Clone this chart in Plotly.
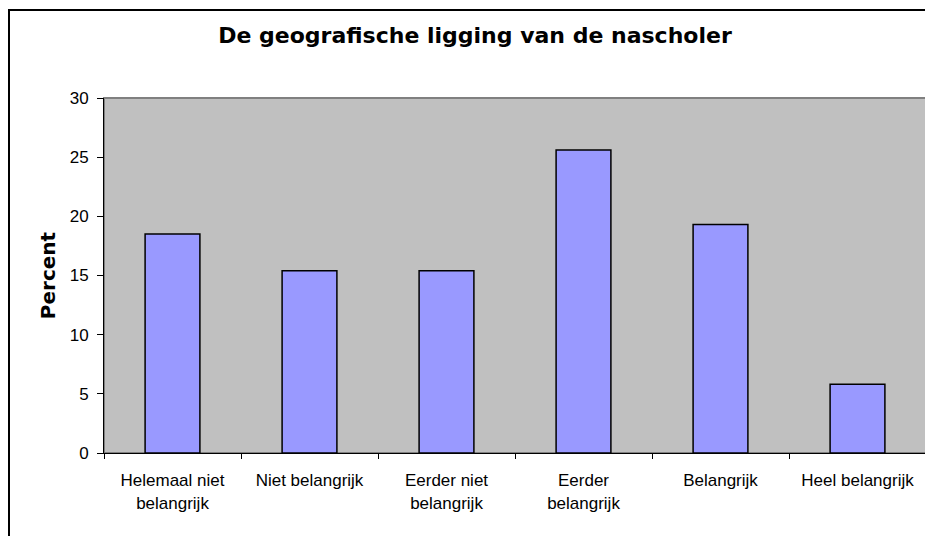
import plotly.graph_objects as go

categories = ["Helemaal niet<br>belangrijk", "Niet belangrijk", "Eerder niet<br>belangrijk",
              "Eerder<br>belangrijk", "Belangrijk", "Heel belangrijk"]
percent = [18.5, 15.4, 15.4, 25.6, 19.3, 5.8]
y_ticks = [0, 5, 10, 15, 20, 25, 30]

# page body has an 8px margin; work in figure pixels
OFF = 8
W, H = 933 - OFF, 536 - OFF
L, R, T, B = 104 - OFF, 7, 98 - OFF, 536 - 453
pw, ph = W - L - R, H - T - B

def px_x(p):
    return (p - OFF - L) / pw

def px_y(p):
    return (H - B - (p - OFF)) / ph

fig = go.Figure(go.Bar(
    x=categories, y=percent,
    marker=dict(color="#9999FF", line=dict(color="black", width=1.5)),
    width=0.4,
))

fig.update_layout(
    width=W, height=H,
    margin=dict(l=L, r=R, t=T, b=B),
    paper_bgcolor="white",
    plot_bgcolor="#C0C0C0",
    showlegend=False,
    title=dict(text="<b>De geografische ligging van de nascholer</b>",
               x=(475 - OFF) / W, xanchor="center", y=1 - (35 - OFF) / H, yanchor="middle",
               font=dict(family="DejaVu Sans", size=22, color="black")),
    font=dict(family="Liberation Sans, Arial", size=17, color="black"),
    xaxis=dict(showline=True, linecolor="black", linewidth=1,
               ticks="outside", tickson="boundaries", ticklen=5, tickcolor="black",
               tickfont=dict(size=17), showgrid=False, ticklabelstandoff=12),
    yaxis=dict(range=[0, 30], tickvals=y_ticks, showline=True, linecolor="black", linewidth=1,
               ticks="outside", ticklen=6, tickcolor="black", showgrid=False, zeroline=False,
               tickfont=dict(size=17), ticklabelstandoff=5,
               title=dict(text="<b>Percent</b>", font=dict(family="DejaVu Sans", size=20),
                          standoff=8)),
    shapes=[
        dict(type="rect", xref="paper", yref="paper", x0=0, x1=1, y0=0, y1=1,
             line=dict(color="#808080", width=2), layer="below"),
        dict(type="rect", xref="paper", yref="paper",
             x0=px_x(9), x1=px_x(960), y0=px_y(560), y1=px_y(10),
             line=dict(color="black", width=2)),
    ],
)

fig.write_html("out.html")
